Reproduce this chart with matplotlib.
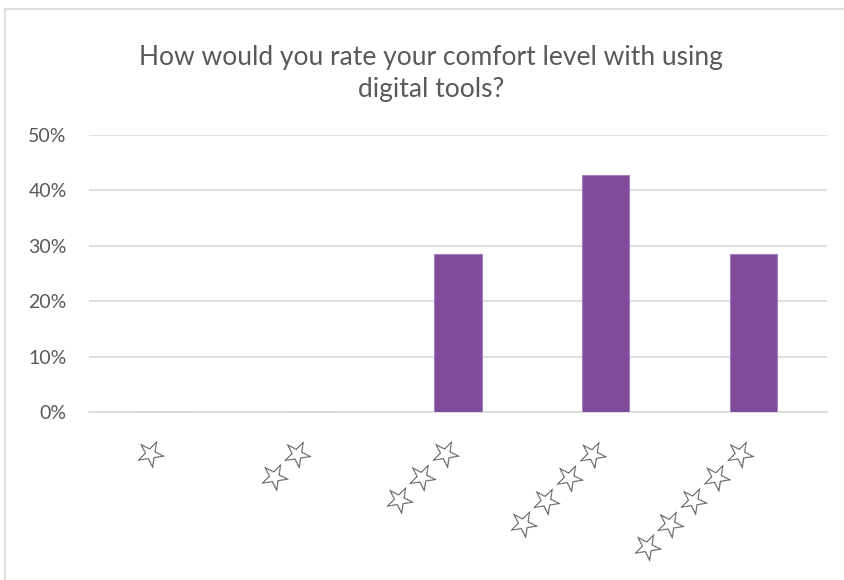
import matplotlib.pyplot as plt
from matplotlib.patches import Rectangle
from matplotlib.ticker import PercentFormatter

# survey answers: share of respondents per star rating
ratings = ["☆", "☆☆", "☆☆☆", "☆☆☆☆", "☆☆☆☆☆"]
shares = [0.0, 0.0, 28.57, 42.86, 28.57]
title = "How would you rate your comfort level with using\ndigital tools?"

text_color = "#595959"
grid_color = "#d9d9d9"
bar_color = "#7e4c9b"

plt.rcParams['font.family'] = ['Lato', 'DejaVu Sans']

fig = plt.figure(figsize=(8.45, 5.8), dpi=100)
W, H = 845, 580
ax = fig.add_axes([89 / W, 1 - 412 / H, (827 - 89) / W, (412 - 135) / H])

x = range(len(ratings))
ax.bar(x, shares, width=0.32, color=bar_color, edgecolor="#a47fbb",
       linewidth=0.8, zorder=3)

ax.set_xlim(-0.5, len(ratings) - 0.5)
ax.set_ylim(0, 50)
ax.set_yticks([0, 10, 20, 30, 40, 50])
ax.yaxis.set_major_formatter(PercentFormatter(decimals=0))
ax.grid(axis="y", color=grid_color, linewidth=1.2, zorder=0)

ax.set_xticks(list(x))
ax.set_xticklabels(ratings, family=['DejaVu Sans'], fontsize=26.5,
                   fontweight="bold", rotation=45, ha="right", va="center",
                   rotation_mode="anchor", color="#555555")
ax.tick_params(axis="x", length=0, pad=21)
ax.tick_params(axis="y", length=0, pad=16, labelsize=14, labelcolor=text_color)

for side in ["top", "right", "left"]:
    ax.spines[side].set_visible(False)
ax.spines["bottom"].set_color(grid_color)
ax.spines["bottom"].set_linewidth(1.2)

fig.text(431 / W, 1 - 73 / H, title, ha="center", va="center",
         fontsize=19, color=text_color, linespacing=1.35)

# light frame around the chart area
fig.add_artist(Rectangle((5 / W, -0.1), 1.2, 1 - 9 / H + 0.1,
                         transform=fig.transFigure, fill=False,
                         edgecolor=grid_color, linewidth=1.2))

fig.savefig("out.png", dpi=100)
